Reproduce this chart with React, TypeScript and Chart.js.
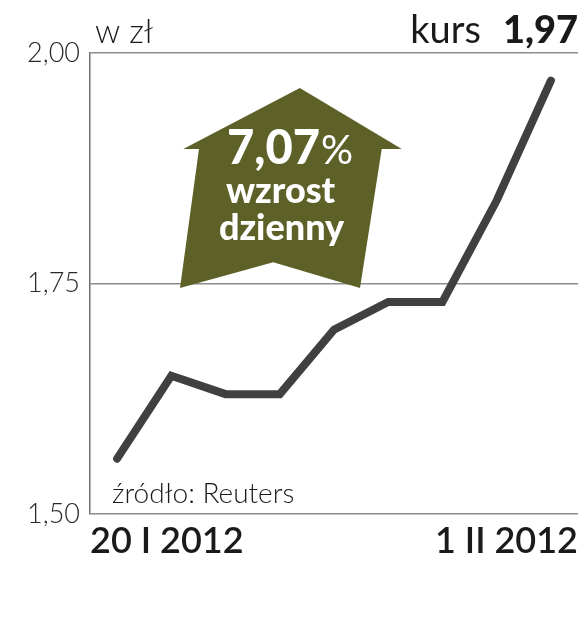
import React, { useEffect, useRef } from "react";
import { Chart, registerables } from "chart.js";

Chart.register(...registerables);

const dates = ["20 I 2012", "23 I 2012", "24 I 2012", "25 I 2012", "26 I 2012", "27 I 2012", "30 I 2012", "31 I 2012", "1 II 2012"];
const values = [1.56, 1.65, 1.63, 1.63, 1.70, 1.73, 1.73, 1.84, 1.97];
const yTickValues = [1.5, 1.75, 2.0];
const xTickLabels = ["20 I 2012", "1 II 2012"];
const unitLabel = "w zł";
const kursLabel = "kurs";
const kursValue = "1,97";
const changeLines = ["7,07%", "wzrost", "dzienny"];
const sourceLabel = "źródło: Reuters";

const LIGHT = "Lato";
const BOLD = "Lato";

// arrow shape in data coordinates (x: index, y: value)
const arrowShape: [number, number][] = [
  [3.37, 1.962],
  [5.25, 1.896],
  [4.88, 1.896],
  [4.48, 1.745],
  [2.88, 1.773],
  [1.16, 1.745],
  [1.51, 1.896],
  [1.22, 1.896],
];

const decorPlugin = {
  id: "decor",
  beforeDatasetsDraw(chart: any) {
    const { ctx, scales } = chart;
    const xs = scales.x;
    const ys = scales.y;
    ctx.save();
    ctx.fillStyle = "#5d6128";
    ctx.beginPath();
    arrowShape.forEach(([x, y], i) => {
      const px = xs.getPixelForValue(x);
      const py = ys.getPixelForValue(y);
      if (i === 0) ctx.moveTo(px, py);
      else ctx.lineTo(px, py);
    });
    ctx.closePath();
    ctx.fill();

    // text inside arrow
    const cx = xs.getPixelForValue(3.07);
    ctx.fillStyle = "#ffffff";
    ctx.textBaseline = "alphabetic";
    const main = changeLines[0].replace("%", "");
    ctx.font = `900 47px ${BOLD}`;
    const mw = ctx.measureText(main).width;
    ctx.font = `400 40px ${LIGHT}`;
    const pw = ctx.measureText("%").width;
    const startX = cx + 6 - (mw + pw) / 2;
    ctx.textAlign = "left";
    ctx.font = `900 47px ${BOLD}`;
    ctx.fillText(main, startX, ys.getPixelForValue(1.90) + 19);
    ctx.font = `400 40px ${LIGHT}`;
    ctx.fillText("%", startX + mw + 1, ys.getPixelForValue(1.90) + 19);
    ctx.textAlign = "center";
    ctx.font = `900 36px ${BOLD}`;
    ctx.fillText(changeLines[1], cx - 3, ys.getPixelForValue(1.86) + 21);
    ctx.fillText(changeLines[2], cx - 2, ys.getPixelForValue(1.82) + 21);
    ctx.restore();
  },
  afterDraw(chart: any) {
    const { ctx, chartArea } = chart;
    ctx.save();
    ctx.fillStyle = "#1a1a1a";
    ctx.textBaseline = "alphabetic";
    ctx.textAlign = "left";
    ctx.font = `300 33px ${LIGHT}`;
    ctx.fillText(unitLabel, chartArea.left + 5, 43);

    ctx.textAlign = "right";
    ctx.font = `900 38px ${BOLD}`;
    const vw = ctx.measureText(kursValue).width;
    ctx.fillText(kursValue, chartArea.right, 43);
    ctx.font = `400 38px ${LIGHT}`;
    ctx.fillText(kursLabel, chartArea.right - vw - 22, 43);

    ctx.textAlign = "left";
    ctx.font = `300 28px ${LIGHT}`;
    ctx.fillText(sourceLabel, chartArea.left + 22, chartArea.bottom - 11);
    ctx.restore();
  },
};

export default function App() {
  const ref = useRef<HTMLCanvasElement | null>(null);
  useEffect(() => {
    if (!ref.current) return;
    const chart = new Chart(ref.current, {
      type: "line",
      data: {
        datasets: [
          {
            label: "kurs",
            data: values.map((v, i) => ({ x: i, y: v })),
            borderColor: "#404040",
            borderWidth: 8,
            borderCapStyle: "round",
            borderJoinStyle: "miter",
            pointRadius: 0,
            tension: 0,
            fill: false,
          },
        ],
      },
      options: {
        animation: false,
        responsive: false,
        events: [],
        layout: { padding: { top: 53, right: 2, left: 0, bottom: 0 } },
        plugins: { legend: { display: false }, tooltip: { enabled: false }, title: { display: false } },
        scales: {
          x: {
            type: "linear",
            min: -0.5,
            max: 8.5,
            afterBuildTicks: (s: any) => {
              s.ticks = [{ value: -0.5 }, { value: 8.5 }];
            },
            afterFit: (s: any) => {
              s.height = 126;
              s.paddingLeft = 0;
              s.paddingRight = 0;
            },
            grid: { display: false, drawTicks: false },
            border: { display: false },
            ticks: {
              autoSkip: false,
              maxRotation: 0,
              align: "inner",
              padding: 6,
              color: "#1a1a1a",
              font: { family: BOLD, size: 36, weight: 600 },
              callback: (_v: any, i: number) => xTickLabels[i],
            },
          },
          y: {
            type: "linear",
            min: 1.5,
            max: 2.0,
            afterBuildTicks: (s: any) => {
              s.ticks = yTickValues.map((v) => ({ value: v }));
            },
            afterFit: (s: any) => {
              s.width = 90;
              s.paddingTop = 0;
              s.paddingBottom = 0;
            },
            grid: { color: "#8c8c8c", lineWidth: 1.5, drawTicks: false },
            border: { display: true, color: "#6e6e6e", width: 1.5 },
            ticks: {
              padding: 10,
              color: "#2a2a2a",
              font: { family: LIGHT, size: 27, weight: 300 },
              callback: (v: any) => Number(v).toFixed(2).replace(".", ","),
            },
          },
        },
      },
      plugins: [decorPlugin],
    });
    return () => chart.destroy();
  }, []);
  return (
    <div style={{ position: "fixed", left: 0, top: 0, width: 580, height: 640 }}>
      <canvas ref={ref} width={580} height={640} style={{ display: "block" }} />
    </div>
  );
}
